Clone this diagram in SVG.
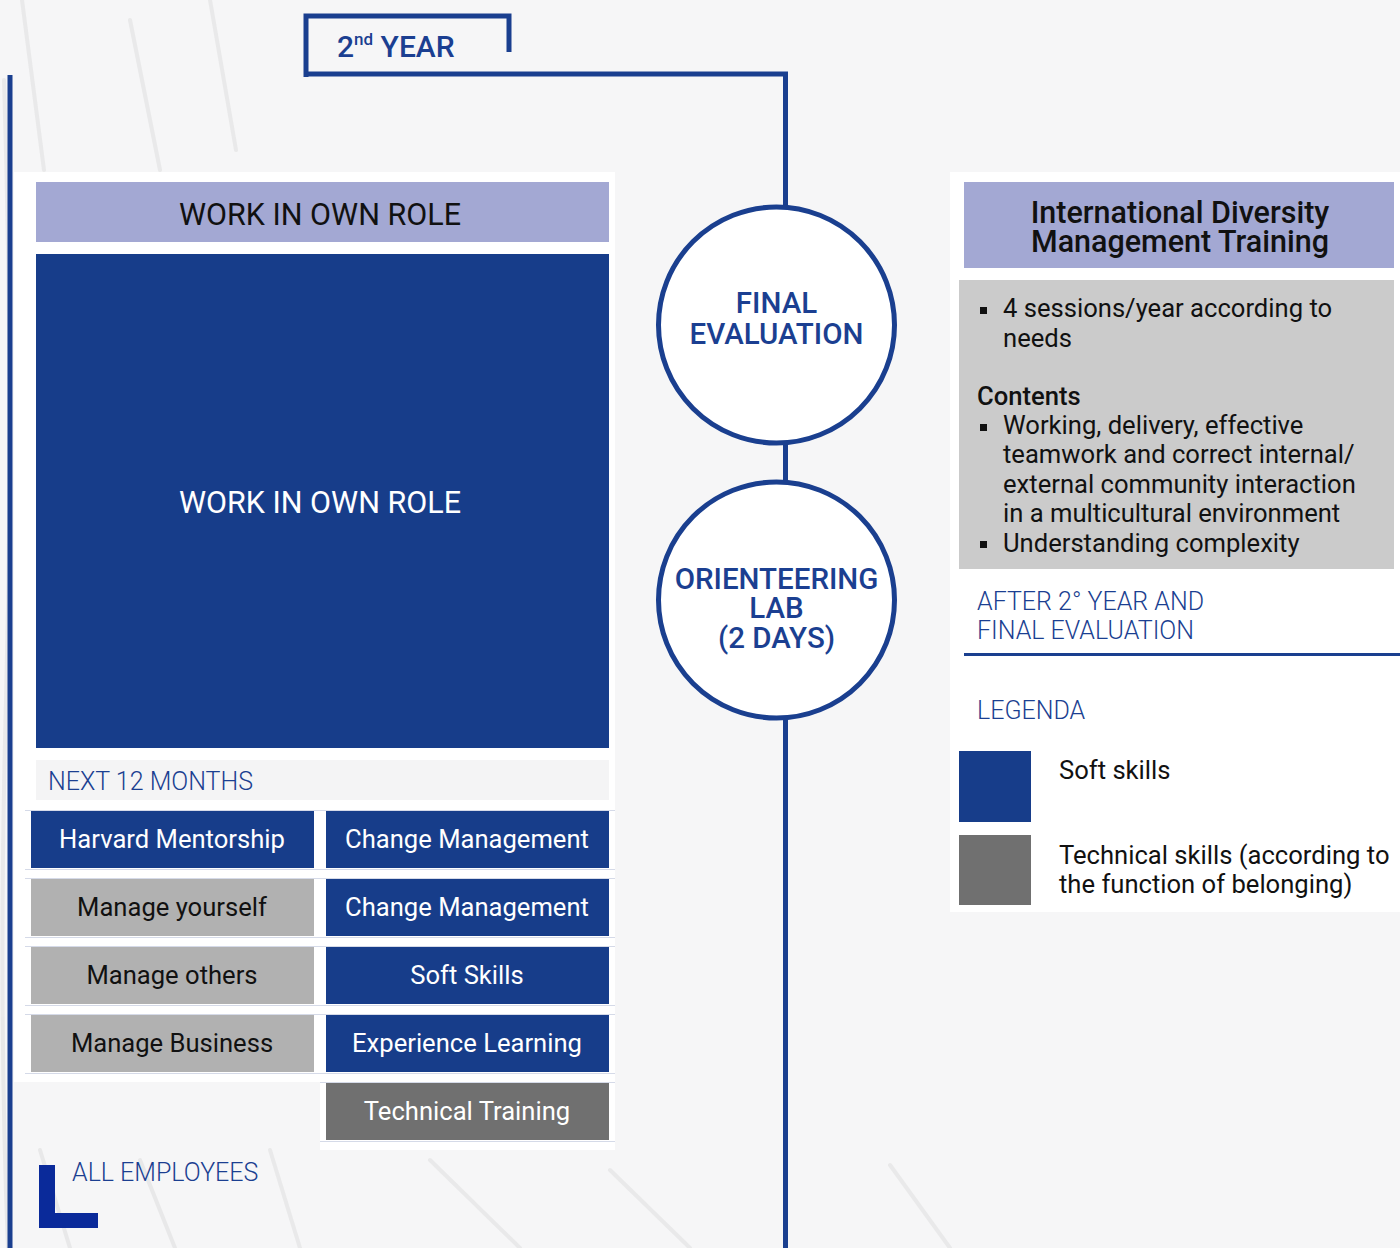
<svg xmlns="http://www.w3.org/2000/svg" width="1400" height="1248" viewBox="0 0 1400 1248">
<style>
text{font-family:Roboto,"Liberation Sans",sans-serif}
.blue{fill:#173d8a}
.lav{fill:#a3a8d3}
.lgrey{fill:#b1b1b1}
.dgrey{fill:#707070}
.panel{fill:#ffffff}
.wt{fill:#ffffff;font-size:25.6px;text-anchor:middle}
.bt{fill:#111111;font-size:25.6px;text-anchor:middle}
.lbl{fill:#1b3f91;font-size:25px;font-weight:300}
.circ{fill:#1b3f91;font-size:29.5px;font-weight:500;text-anchor:middle}
.line{stroke:#1a3f8f;stroke-width:5;fill:none}
.body{fill:#111111;font-size:25.6px}
.sep{stroke:#d5dae8;stroke-width:1}
</style>
<rect width="1400" height="1248" fill="#f6f6f7"/>
<g opacity="0.35" stroke="#d0d0d0" fill="none" stroke-width="4" stroke-linecap="round">
<path d="M4 80 Q14 400 6 700 T8 1248 M22 0 L44 170 M130 20 L160 170 M210 0 L236 150"/>
<path d="M40 1150 L70 1248 M140 1160 L175 1248 M270 1150 L300 1248 M430 1160 L520 1248 M610 1170 L690 1248 M890 1165 L950 1248"/>
</g>
<g id="connectors">
<path class="line" d="M10 75 V1248"/>
<path class="line" d="M306 74 H785.5 V206"/>
<path class="line" d="M785.5 443 V481"/>
<path class="line" d="M785.5 719 V1248"/>
</g>
<g id="year-box">
<path class="line" d="M306 77 V16 H509 V52"/>
<text x="337" y="57" fill="#1b3f91" font-size="30" font-weight="500">2<tspan font-size="17" dy="-12">nd</tspan><tspan dy="12"> YEAR</tspan></text>
</g>
<rect x="14" y="172" width="601" height="910" class="panel"/>
<rect x="320" y="1075" width="295" height="75" class="panel"/>
<rect x="950" y="172" width="450" height="740" class="panel"/>
<g id="work-header">
<rect x="36" y="182" width="573" height="60" class="lav"/>
<text x="320" y="225" fill="#111" font-size="30.5" text-anchor="middle">WORK IN OWN ROLE</text>
</g>
<g id="work-main">
<rect x="36" y="254" width="573" height="494" class="blue"/>
<text x="320" y="513" fill="#fff" font-size="30.5" text-anchor="middle">WORK IN OWN ROLE</text>
</g>
<g id="next-months">
<rect x="36" y="760" width="573" height="40" fill="#f4f4f5"/>
<text x="48" y="790" class="lbl">NEXT 12 MONTHS</text>
</g>
<g id="seps">
<path class="sep" d="M25 810.5 H615 M25 878.5 H615 M25 946.5 H615 M25 1014.5 H615 M320 1082.5 H615 M25 869.5 H615 M25 937.5 H615 M25 1005.5 H615 M25 1073.5 H615 M320 1141.5 H615"/>
</g>
<g id="harvard-mentorship"><rect x="31" y="811" width="283" height="57" class="blue"/><text x="172" y="848" class="wt">Harvard Mentorship</text></g>
<g id="change-management-1"><rect x="326" y="811" width="283" height="57" class="blue"/><text x="467" y="848" class="wt">Change Management</text></g>
<g id="manage-yourself"><rect x="31" y="879" width="283" height="57" class="lgrey"/><text x="172" y="916" class="bt">Manage yourself</text></g>
<g id="change-management-2"><rect x="326" y="879" width="283" height="57" class="blue"/><text x="467" y="916" class="wt">Change Management</text></g>
<g id="manage-others"><rect x="31" y="947" width="283" height="57" class="lgrey"/><text x="172" y="984" class="bt">Manage others</text></g>
<g id="soft-skills"><rect x="326" y="947" width="283" height="57" class="blue"/><text x="467" y="984" class="wt">Soft Skills</text></g>
<g id="manage-business"><rect x="31" y="1015" width="283" height="57" class="lgrey"/><text x="172" y="1052" class="bt">Manage Business</text></g>
<g id="experience-learning"><rect x="326" y="1015" width="283" height="57" class="blue"/><text x="467" y="1052" class="wt">Experience Learning</text></g>
<g id="technical-training"><rect x="326" y="1083" width="283" height="57" class="dgrey"/><text x="467" y="1120" class="wt">Technical Training</text></g>
<g id="all-employees">
<path d="M39 1165 H55 V1213 H98 V1228 H39 Z" fill="#0a2a9a"/>
<text x="72" y="1181" class="lbl">ALL EMPLOYEES</text>
</g>
<g id="final-evaluation">
<circle cx="776.5" cy="325" r="118" fill="#fff" stroke="#1a3f8f" stroke-width="5"/>
<text x="776.5" y="313" class="circ">FINAL</text>
<text x="776.5" y="344" class="circ">EVALUATION</text>
</g>
<g id="orienteering-lab">
<circle cx="776.5" cy="600" r="118" fill="#fff" stroke="#1a3f8f" stroke-width="5"/>
<text x="776.5" y="589" class="circ">ORIENTEERING</text>
<text x="776.5" y="618" class="circ">LAB</text>
<text x="776.5" y="648" class="circ">(2 DAYS)</text>
</g>
<g id="idm-header">
<rect x="964" y="182" width="430" height="86" class="lav"/>
<text x="1180" y="223" fill="#111" font-size="30.5" font-weight="500" text-anchor="middle">International Diversity</text>
<text x="1180" y="252" fill="#111" font-size="30.5" font-weight="500" text-anchor="middle">Management Training</text>
</g>
<g id="idm-body">
<rect x="959" y="280" width="435" height="289" fill="#cbcbcb"/>
<rect x="980" y="307" width="7" height="7" fill="#111"/>
<text x="1003" y="317" class="body">4 sessions/year according to</text>
<text x="1003" y="347" class="body">needs</text>
<text x="977" y="405" class="body" font-weight="500">Contents</text>
<rect x="980" y="424" width="7" height="7" fill="#111"/>
<text x="1003" y="434" class="body">Working, delivery, effective</text>
<text x="1003" y="463" class="body">teamwork and correct internal/</text>
<text x="1003" y="493" class="body">external community interaction</text>
<text x="1003" y="522" class="body">in a multicultural environment</text>
<rect x="980" y="541" width="7" height="7" fill="#111"/>
<text x="1003" y="552" class="body">Understanding complexity</text>
</g>
<g id="after-year">
<text x="977" y="610" class="lbl">AFTER 2° YEAR AND</text>
<text x="977" y="639" class="lbl">FINAL EVALUATION</text>
<path d="M964 654.5 H1400" stroke="#1a3f8f" stroke-width="3"/>
</g>
<g id="legenda">
<text x="977" y="719" class="lbl">LEGENDA</text>
<rect x="959" y="751" width="72" height="71" class="blue"/>
<text x="1059" y="779" class="body">Soft skills</text>
<rect x="959" y="835" width="72" height="70" class="dgrey"/>
<text x="1059" y="864" class="body">Technical skills (according to</text>
<text x="1059" y="893" class="body">the function of belonging)</text>
</g>
</svg>
